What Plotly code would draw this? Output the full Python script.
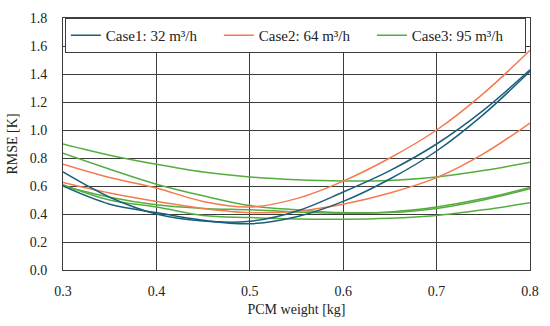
import plotly.graph_objects as go

x_vals = [0.3, 0.35, 0.4, 0.45, 0.5, 0.55, 0.6, 0.65, 0.7, 0.75, 0.8]

case1_a = [0.70, 0.52, 0.40, 0.35, 0.348, 0.42, 0.557, 0.71, 0.90, 1.14, 1.43]
case1_b = [0.60, 0.47, 0.41, 0.355, 0.33, 0.38, 0.49, 0.65, 0.85, 1.11, 1.42]
case2_a = [0.755, 0.66, 0.585, 0.49, 0.45, 0.51, 0.635, 0.80, 1.00, 1.26, 1.57]
case2_b = [0.625, 0.55, 0.49, 0.44, 0.41, 0.42, 0.47, 0.55, 0.66, 0.83, 1.05]
case3_a = [0.90, 0.82, 0.755, 0.70, 0.665, 0.645, 0.636, 0.64, 0.665, 0.71, 0.77]
case3_b = [0.834, 0.72, 0.613, 0.53, 0.46, 0.43, 0.41, 0.415, 0.45, 0.51, 0.59]
case3_c = [0.60, 0.52, 0.466, 0.44, 0.43, 0.415, 0.405, 0.41, 0.44, 0.50, 0.58]
case3_d = [0.61, 0.50, 0.45, 0.39, 0.375, 0.365, 0.363, 0.37, 0.39, 0.43, 0.48]

case_names = ["Case1: 32 m³/h", "Case2: 64 m³/h", "Case3: 95 m³/h"]
case_colors = ["#1b5e7b", "#f47a50", "#55ad3f"]
case_series = [
    [case1_a, case1_b],
    [case2_a, case2_b],
    [case3_a, case3_b, case3_c, case3_d],
]

x_ticks = [0.3, 0.4, 0.5, 0.6, 0.7, 0.8]
y_ticks = [0.0, 0.2, 0.4, 0.6, 0.8, 1.0, 1.2, 1.4, 1.6, 1.8]

FONT = "Liberation Serif"

fig = go.Figure()
for ci in [2, 1, 0]:
    for si, ys in enumerate(case_series[ci]):
        fig.add_trace(go.Scatter(
            x=x_vals, y=ys, mode="lines",
            line=dict(color=case_colors[ci], width=1.5, shape="spline", smoothing=1.0),
            name=case_names[ci], legendgroup=case_names[ci],
            showlegend=(si == 0), legendrank=ci + 1,
        ))

grid_col = "#3c3c3c"
fig.update_layout(
    width=550, height=326,
    margin=dict(l=63, r=14, t=11, b=51),
    paper_bgcolor="white", plot_bgcolor="white",
    font=dict(family=FONT, size=14, color="#222"),
    showlegend=True,
    legend=dict(
        orientation="h", x=0.004, y=1.0, xanchor="left", yanchor="top",
        bgcolor="white", bordercolor=grid_col, borderwidth=1,
        font=dict(size=15, family=FONT, color="#222"),
        entrywidth=108, entrywidthmode="pixels", itemwidth=30,
        traceorder="normal",
    ),
    xaxis=dict(
        range=[0.3, 0.8], tickvals=x_ticks, tickformat=".1f",
        showgrid=True, gridcolor=grid_col, gridwidth=1,
        showline=True, linecolor=grid_col, linewidth=1, mirror=True,
        zeroline=False, ticks="", ticklabelstandoff=8,
        tickfont=dict(size=14, family=FONT),
        title=dict(text="PCM weight [kg]", font=dict(size=14, family=FONT), standoff=6),
    ),
    yaxis=dict(
        range=[0, 1.8], tickvals=y_ticks, tickformat=".1f",
        showgrid=True, gridcolor=grid_col, gridwidth=1,
        showline=True, linecolor=grid_col, linewidth=1, mirror=True,
        zeroline=False, ticks="", ticklabelstandoff=12,
        tickfont=dict(size=14, family=FONT),
        title=dict(text="RMSE [K]", font=dict(size=14, family=FONT), standoff=8),
    ),
)

fig.write_html("out.html", config={"displayModeBar": False},
               post_script="document.body.style.margin='0';")
